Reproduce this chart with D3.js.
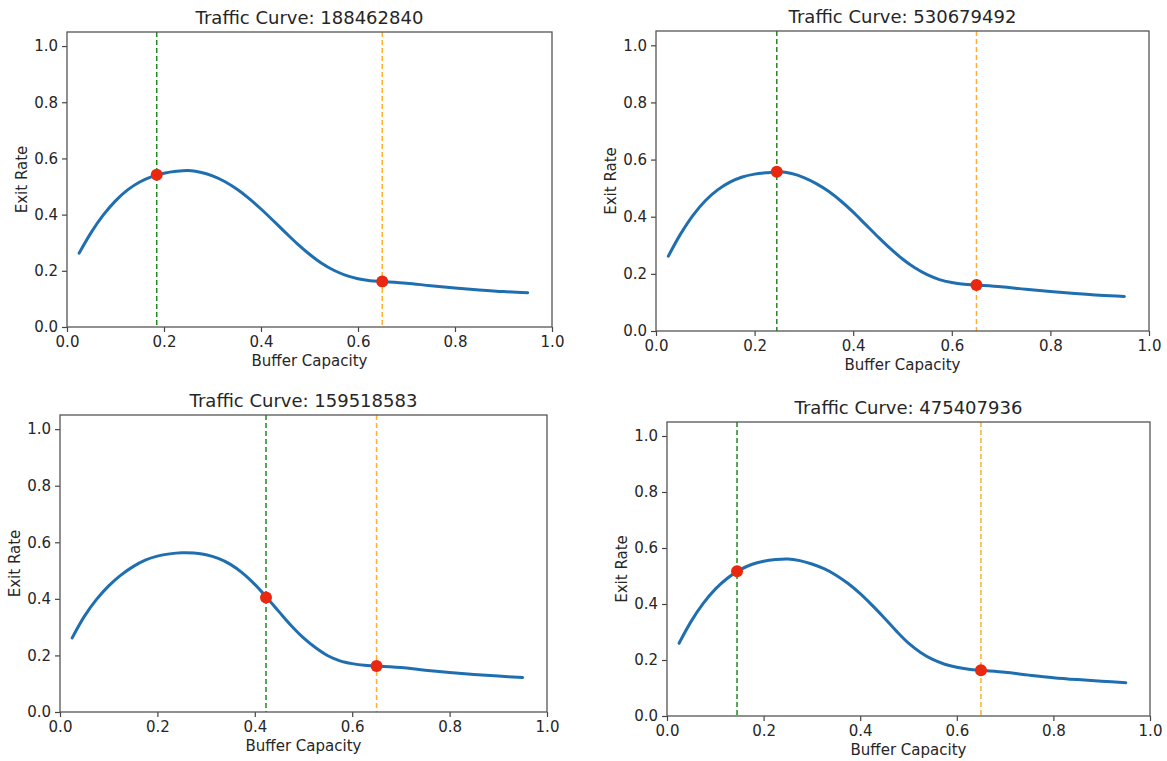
<!DOCTYPE html>
<html>
<head>
<meta charset="utf-8">
<script src="https://cdn.jsdelivr.net/npm/d3@7"></script>
<style>
  body { margin: 0; background: #fff; }
  text { font-family: "DejaVu Sans", sans-serif; fill: #262626; }
</style>
</head>
<body>
<div id="chart"></div>
<script>
// Buffer capacity grid shared by the four curves
const capacity = [0.025, 0.05, 0.075, 0.1, 0.125, 0.15, 0.175, 0.2, 0.225, 0.25, 0.275, 0.3,
  0.325, 0.35, 0.375, 0.4, 0.425, 0.45, 0.475, 0.5, 0.525, 0.55, 0.575, 0.6, 0.625, 0.65,
  0.7, 0.75, 0.8, 0.85, 0.9, 0.95];

// Exit rate
const curve188462840 = [0.263, 0.337, 0.399, 0.449, 0.488, 0.516, 0.535, 0.547, 0.554, 0.557, 0.551, 0.538,
  0.518, 0.491, 0.458, 0.420, 0.379, 0.337, 0.296, 0.259, 0.227, 0.202, 0.184, 0.172, 0.165, 0.162,
  0.156, 0.147, 0.139, 0.132, 0.126, 0.122];
const curve530679492 = [0.262, 0.340, 0.405, 0.456, 0.494, 0.521, 0.539, 0.549, 0.554, 0.557, 0.551, 0.537,
  0.516, 0.489, 0.455, 0.416, 0.373, 0.330, 0.289, 0.252, 0.221, 0.197, 0.180, 0.170, 0.164, 0.161,
  0.155, 0.146, 0.138, 0.131, 0.125, 0.121];
const curve159518583 = [0.262, 0.338, 0.398, 0.446, 0.484, 0.514, 0.537, 0.551, 0.559, 0.563, 0.562, 0.556,
  0.543, 0.522, 0.491, 0.451, 0.404, 0.354, 0.305, 0.262, 0.227, 0.199, 0.181, 0.171, 0.165, 0.163,
  0.157, 0.148, 0.140, 0.133, 0.127, 0.122];
const curve475407936 = [0.260, 0.338, 0.402, 0.453, 0.492, 0.521, 0.541, 0.553, 0.559, 0.561, 0.555, 0.543,
  0.526, 0.503, 0.473, 0.437, 0.395, 0.350, 0.303, 0.260, 0.227, 0.202, 0.185, 0.174, 0.167, 0.163,
  0.156, 0.146, 0.137, 0.130, 0.124, 0.119];

const curveIds = ["188462840", "530679492", "159518583", "475407936"];
const curves = [curve188462840, curve530679492, curve159518583, curve475407936];

// marked points: green = chosen capacity, orange = fixed 0.65
const greenX = [0.185, 0.245, 0.423, 0.145];
const greenY = [0.542, 0.557, 0.405, 0.517];
const orangeX = [0.65, 0.65, 0.65, 0.65];
const orangeY = [0.162, 0.161, 0.163, 0.163];

const xTicks = [0, 0.2, 0.4, 0.6, 0.8, 1.0];
const yTicks = [0, 0.2, 0.4, 0.6, 0.8, 1.0];

// frame of each subplot in page pixels
const frames = [
  { left: 67, right: 552, top: 32, bottom: 327 },
  { left: 656, right: 1149, top: 31, bottom: 331 },
  { left: 60, right: 547, top: 415, bottom: 712 },
  { left: 667, right: 1150, top: 422, bottom: 716 }
];

const svg = d3.select("#chart").append("svg")
  .attr("width", 1167)
  .attr("height", 761);

curves.forEach(function(vals, i) {
  const f = frames[i];
  const w = f.right - f.left;
  const h = f.bottom - f.top;

  const g = svg.append("g")
    .attr("transform", "translate(" + f.left + "," + f.top + ")");

  const x = d3.scaleLinear().domain([0, 1]).range([0, w]);
  const y = d3.scaleLinear().domain([0, 1.05]).range([h, 0]);

  // axes
  const xAxis = g.append("g")
    .attr("transform", "translate(0," + h + ")")
    .call(d3.axisBottom(x).tickValues(xTicks).tickFormat(d3.format(".1f")).tickSize(5).tickPadding(4).tickSizeOuter(0));
  const yAxis = g.append("g")
    .call(d3.axisLeft(y).tickValues(yTicks).tickFormat(d3.format(".1f")).tickSize(5).tickPadding(4).tickSizeOuter(0));

  [xAxis, yAxis].forEach(function(a) {
    a.select(".domain").remove();
    a.selectAll("line").attr("stroke", "#444").attr("stroke-width", 1.2);
    a.selectAll("text")
      .style("font-family", "DejaVu Sans, sans-serif")
      .style("font-size", "15px")
      .attr("fill", "#262626");
  });

  // vertical reference lines
  g.append("line")
    .attr("x1", x(greenX[i])).attr("x2", x(greenX[i]))
    .attr("y1", 0).attr("y2", h)
    .attr("stroke", "#1f8a1f")
    .attr("stroke-width", 1.5)
    .attr("stroke-dasharray", "5,3");
  g.append("line")
    .attr("x1", x(orangeX[i])).attr("x2", x(orangeX[i]))
    .attr("y1", 0).attr("y2", h)
    .attr("stroke", "#ffb02e")
    .attr("stroke-width", 1.5)
    .attr("stroke-dasharray", "5,3");

  // the curve
  const line = d3.line()
    .x((d, j) => x(capacity[j]))
    .y(d => y(d))
    .curve(d3.curveCatmullRom.alpha(0.5));

  g.append("path")
    .datum(vals)
    .attr("d", line)
    .attr("fill", "none")
    .attr("stroke", "#1f6fb0")
    .attr("stroke-width", 3)
    .attr("stroke-linecap", "round");

  // red points
  g.selectAll(".pt")
    .data([[greenX[i], greenY[i]], [orangeX[i], orangeY[i]]])
    .enter().append("circle")
    .attr("cx", d => x(d[0]))
    .attr("cy", d => y(d[1]))
    .attr("r", 6)
    .attr("fill", "#e8280f");

  // frame
  g.append("rect")
    .attr("width", w)
    .attr("height", h)
    .attr("fill", "none")
    .attr("stroke", "#555")
    .attr("stroke-width", 1.3);

  // title
  g.append("text")
    .attr("x", w / 2)
    .attr("y", -8)
    .attr("text-anchor", "middle")
    .style("font-size", "18px")
    .text("Traffic Curve: " + curveIds[i]);

  // axis labels
  g.append("text")
    .attr("x", w / 2)
    .attr("y", h + 39)
    .attr("text-anchor", "middle")
    .style("font-size", "15px")
    .text("Buffer Capacity");

  g.append("text")
    .attr("transform", "rotate(-90)")
    .attr("x", -h / 2)
    .attr("y", -40)
    .attr("text-anchor", "middle")
    .style("font-size", "15px")
    .text("Exit Rate");
});
</script>
</body>
</html>
